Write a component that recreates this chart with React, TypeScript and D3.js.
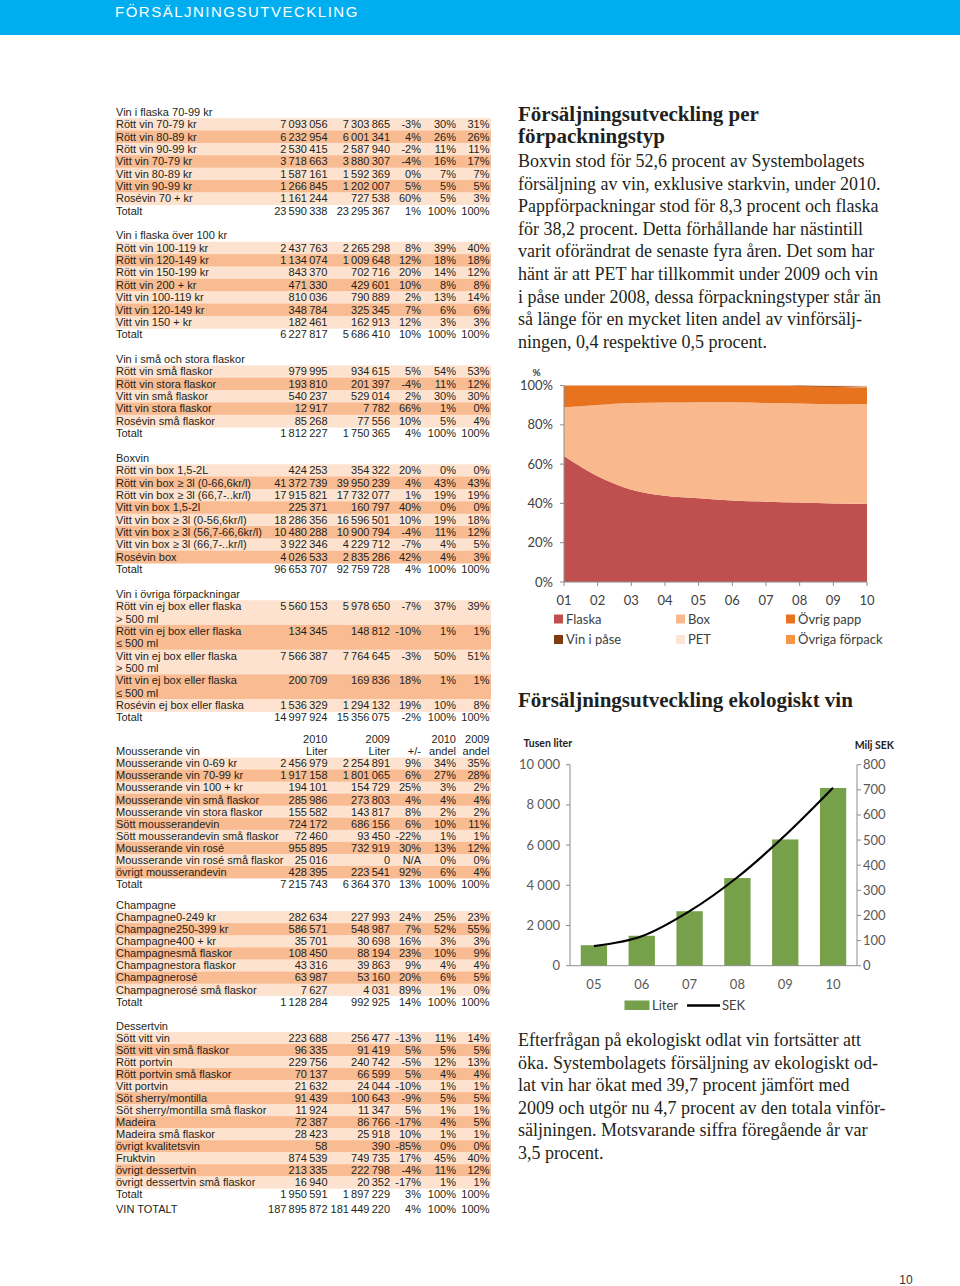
import React from "react";
import * as d3 from "d3";

const W = 960;
const H = 1286;

// ---------------- TABLE DATA ----------------
type Row = [string, number, number, number | null, number, number];
type Total = [number, number, number, number, number];

const flaska7099Rows: Row[] = [
  ["Rött vin 70-79 kr", 7093056, 7303865, -3, 30, 31],
  ["Rött vin 80-89 kr", 6232954, 6001341, 4, 26, 26],
  ["Rött vin 90-99 kr", 2530415, 2587940, -2, 11, 11],
  ["Vitt vin  70-79 kr", 3718663, 3880307, -4, 16, 17],
  ["Vitt vin 80-89 kr", 1587161, 1592369, 0, 7, 7],
  ["Vitt vin  90-99 kr", 1266845, 1202007, 5, 5, 5],
  ["Rosévin 70 + kr", 1161244, 727538, 60, 5, 3],
];
const flaska7099Total: Total = [23590338, 23295367, 1, 100, 100];

const flaska100Rows: Row[] = [
  ["Rött vin 100-119 kr", 2437763, 2265298, 8, 39, 40],
  ["Rött vin 120-149 kr", 1134074, 1009648, 12, 18, 18],
  ["Rött vin 150-199 kr", 843370, 702716, 20, 14, 12],
  ["Rött vin 200 + kr", 471330, 429601, 10, 8, 8],
  ["Vitt vin 100-119 kr", 810036, 790889, 2, 13, 14],
  ["Vitt vin 120-149 kr", 348784, 325345, 7, 6, 6],
  ["Vitt vin 150 + kr", 182461, 162913, 12, 3, 3],
];
const flaska100Total: Total = [6227817, 5686410, 10, 100, 100];

const smaStoraRows: Row[] = [
  ["Rött vin små flaskor", 979995, 934615, 5, 54, 53],
  ["Rött vin stora flaskor", 193810, 201397, -4, 11, 12],
  ["Vitt vin små flaskor", 540237, 529014, 2, 30, 30],
  ["Vitt vin stora flaskor", 12917, 7782, 66, 1, 0],
  ["Rosévin små flaskor", 85268, 77556, 10, 5, 4],
];
const smaStoraTotal: Total = [1812227, 1750365, 4, 100, 100];

const boxRows: Row[] = [
  ["Rött vin box 1,5-2L", 424253, 354322, 20, 0, 0],
  ["Rött vin box ≥ 3l (0-66,6kr/l)", 41372739, 39950239, 4, 43, 43],
  ["Rött vin box ≥ 3l (66,7-..kr/l)", 17915821, 17732077, 1, 19, 19],
  ["Vitt vin box 1,5-2l", 225371, 160797, 40, 0, 0],
  ["Vitt vin box ≥ 3l (0-56,6kr/l)", 18286356, 16596501, 10, 19, 18],
  ["Vitt vin box ≥ 3l (56,7-66,6kr/l)", 10480288, 10900794, -4, 11, 12],
  ["Vitt vin box ≥ 3l (66,7-..kr/l)", 3922346, 4229712, -7, 4, 5],
  ["Rosévin box", 4026533, 2835286, 42, 4, 3],
];
const boxTotal: Total = [96653707, 92759728, 4, 100, 100];

const ovrigaRows: Row[] = [
  ["Rött vin ej box eller flaska\n> 500 ml", 5560153, 5978650, -7, 37, 39],
  ["Rött vin ej box eller flaska\n≤ 500 ml", 134345, 148812, -10, 1, 1],
  ["Vitt vin ej box eller flaska\n> 500 ml", 7566387, 7764645, -3, 50, 51],
  ["Vitt vin ej box eller flaska\n≤ 500 ml", 200709, 169836, 18, 1, 1],
  ["Rosévin ej box eller flaska", 1536329, 1294132, 19, 10, 8],
];
const ovrigaTotal: Total = [14997924, 15356075, -2, 100, 100];

const mousRows: Row[] = [
  ["Mousserande vin 0-69 kr", 2456979, 2254891, 9, 34, 35],
  ["Mousserande vin 70-99 kr", 1917158, 1801065, 6, 27, 28],
  ["Mousserande vin 100 + kr", 194101, 154729, 25, 3, 2],
  ["Mousserande vin små flaskor", 285986, 273803, 4, 4, 4],
  ["Mousserande vin stora flaskor", 155582, 143817, 8, 2, 2],
  ["Sött mousserandevin", 724172, 686156, 6, 10, 11],
  ["Sött mousserandevin små flaskor", 72460, 93450, -22, 1, 1],
  ["Mousserande vin rosé", 955895, 732919, 30, 13, 12],
  ["Mousserande vin rosé små flaskor", 25016, 0, null, 0, 0],
  ["övrigt mousserandevin", 428395, 223541, 92, 6, 4],
];
const mousTotal: Total = [7215743, 6364370, 13, 100, 100];
const mousHeadTop = ["2010", "2009", "", "2010", "2009"];
const mousHeadBottom = ["Liter", "Liter", "+/-", "andel", "andel"];

const champRows: Row[] = [
  ["Champagne0-249 kr", 282634, 227993, 24, 25, 23],
  ["Champagne250-399 kr", 586571, 548987, 7, 52, 55],
  ["Champagne400 + kr", 35701, 30698, 16, 3, 3],
  ["Champagnesmå flaskor", 108450, 88194, 23, 10, 9],
  ["Champagnestora flaskor", 43316, 39863, 9, 4, 4],
  ["Champagnerosé", 63987, 53160, 20, 6, 5],
  ["Champagnerosé små flaskor", 7627, 4031, 89, 1, 0],
];
const champTotal: Total = [1128284, 992925, 14, 100, 100];

const dessertRows: Row[] = [
  ["Sött vitt vin", 223688, 256477, -13, 11, 14],
  ["Sött vitt vin små flaskor", 96335, 91419, 5, 5, 5],
  ["Rött portvin", 229756, 240742, -5, 12, 13],
  ["Rött portvin små flaskor", 70137, 66599, 5, 4, 4],
  ["Vitt portvin", 21632, 24044, -10, 1, 1],
  ["Söt sherry/montilla", 91439, 100643, -9, 5, 5],
  ["Söt sherry/montilla små flaskor", 11924, 11347, 5, 1, 1],
  ["Madeira", 72387, 86766, -17, 4, 5],
  ["Madeira små flaskor", 28423, 25918, 10, 1, 1],
  ["övrigt kvalitetsvin", 58, 390, -85, 0, 0],
  ["Fruktvin", 874539, 749735, 17, 45, 40],
  ["övrigt dessertvin", 213335, 222798, -4, 11, 12],
  ["övrigt dessertvin små flaskor", 16940, 20352, -17, 1, 1],
];
const dessertTotal: Total = [1950591, 1897229, 3, 100, 100];

const vinTotalt: Total = [187895872, 181449220, 4, 100, 100];

const sectionTitles = [
  "Vin i flaska 70-99 kr",
  "Vin i flaska över 100 kr",
  "Vin i små och stora flaskor",
  "Boxvin",
  "Vin i övriga förpackningar",
  "Mousserande vin",
  "Champagne",
  "Dessertvin",
];
const sectionRows = [flaska7099Rows, flaska100Rows, smaStoraRows, boxRows, ovrigaRows, mousRows, champRows, dessertRows];
const sectionTotals = [flaska7099Total, flaska100Total, smaStoraTotal, boxTotal, ovrigaTotal, mousTotal, champTotal, dessertTotal];

// ---------------- CHART DATA ----------------
const pkgYears = ["01", "02", "03", "04", "05", "06", "07", "08", "09", "10"];
const pkgFlaska = [64.1, 53.8, 47.0, 43.9, 42.6, 41.5, 40.9, 40.5, 40.0, 39.8];
const pkgBox = [24.8, 36.3, 44.1, 47.4, 48.9, 50.0, 50.2, 50.3, 50.4, 50.8];
const pkgOvrigPapp = [11.1, 9.9, 8.9, 8.7, 8.5, 8.5, 8.9, 9.0, 9.0, 8.3];
const pkgOvrigaForpack = [0, 0, 0, 0, 0, 0, 0, 0, 0, 0.2];
const pkgVinIPase = [0, 0, 0, 0, 0, 0, 0, 0.2, 0.4, 0.4];
const pkgPet = [0, 0, 0, 0, 0, 0, 0, 0, 0.2, 0.5];
const pkgYTicks = [0, 0.2, 0.4, 0.6, 0.8, 1];

const ecoYears = ["05", "06", "07", "08", "09", "10"];
const ecoLiter = [1020, 1490, 2710, 4360, 6280, 8840];
const ecoSek = [78, 117, 217, 352, 519, 708];
const ecoLeftTicks = [0, 2000, 4000, 6000, 8000, 10000];
const ecoRightTicks = [0, 100, 200, 300, 400, 500, 600, 700, 800];

// ---------------- TEXT ----------------
const para1 = [
  "Boxvin stod för 52,6 procent av Systembolagets",
  "försäljning av vin, exklusive starkvin, under 2010.",
  "Pappförpackningar stod för 8,3 procent och flaska",
  "för 38,2 procent. Detta förhållande har nästintill",
  "varit oförändrat de senaste fyra åren. Det som har",
  "hänt är att PET har tillkommit under 2009 och vin",
  "i påse under 2008, dessa förpackningstyper står än",
  "så länge för en mycket liten andel av vinförsälj-",
  "ningen, 0,4 respektive 0,5 procent.",
];
const para2 = [
  "Efterfrågan på ekologiskt odlat vin fortsätter att",
  "öka. Systembolagets försäljning av ekologiskt od-",
  "lat vin har ökat med 39,7 procent jämfört med",
  "2009 och utgör nu 4,7 procent av den totala vinför-",
  "säljningen. Motsvarande siffra föregående år var",
  "3,5 procent.",
];

// ---------------- STYLE / LAYOUT ----------------
const TABLE_FONT = "'Liberation Sans', Arial, sans-serif";
const SERIF = "'Liberation Serif', 'Times New Roman', serif";
const CHART_FONT = "Lato, 'Open Sans', sans-serif";
const INK = "#231f20";
const LIGHT_BAND = "#fde3cf";
const DARK_BAND = "#f9bc92";
const colRight = [327.5, 390, 421, 456, 489.5];
const sectionLayout = [
  { start: 112, pitch: 12.36 },
  { start: 112 + 10 * 12.36, pitch: 12.36 },
  { start: 112 + 20 * 12.36, pitch: 12.36 },
  { start: 112 + 28 * 12.36, pitch: 12.36 },
  { start: 112 + 39 * 12.36, pitch: 12.36 },
  { start: 751.5, pitch: 12.05 },
  { start: 905, pitch: 12.1 },
  { start: 1026, pitch: 12.02 },
];
const vinTotaltY = 1209.5;

const locale = d3.formatLocale({ decimal: ",", thousands: "\u2009", grouping: [3], currency: ["", ""] });
const fmtNum = locale.format(",d");
const fmtPct = (v: number | null) => (v === null ? "N/A" : `${v}%`);
const fmtThousand = d3.formatLocale({ decimal: ",", thousands: " ", grouping: [3], currency: ["", ""] }).format(",d");

function Cells({ y, vals }: { y: number; vals: string[] }) {
  return (
    <>
      {vals.map((v, i) => (
        <text key={i} x={colRight[i]} y={y + 3.8} textAnchor="end">
          {v}
        </text>
      ))}
    </>
  );
}

function totalCells(t: Total) {
  return [fmtNum(t[0]), fmtNum(t[1]), fmtPct(t[2]), fmtPct(t[3]), fmtPct(t[4])];
}

function Table() {
  const bands: React.ReactNode[] = [];
  const texts: React.ReactNode[] = [];
  sectionTitles.forEach((title, si) => {
    const { start, pitch } = sectionLayout[si];
    const rows = sectionRows[si];
    const yOf = (line: number) => start + line * pitch;
    if (si === 5) {
      texts.push(<Cells key={`h1-${si}`} y={yOf(-1)} vals={mousHeadTop} />);
      texts.push(<Cells key={`h2-${si}`} y={yOf(0)} vals={mousHeadBottom} />);
    }
    texts.push(
      <text key={`t-${si}`} x={116} y={yOf(0) + 3.8}>
        {title}
      </text>
    );
    let line = 1;
    rows.forEach((r, ri) => {
      const labelLines = r[0].split("\n");
      const y0 = yOf(line);
      bands.push(
        <rect
          key={`b-${si}-${ri}`}
          x={115}
          y={y0 - pitch / 2}
          width={376}
          height={labelLines.length * pitch + 0.4}
          fill={ri % 2 === 0 ? LIGHT_BAND : DARK_BAND}
        />
      );
      labelLines.forEach((l, li) => {
        texts.push(
          <text key={`l-${si}-${ri}-${li}`} x={116} y={y0 + li * pitch + 3.8}>
            {l}
          </text>
        );
      });
      texts.push(
        <Cells
          key={`c-${si}-${ri}`}
          y={y0}
          vals={[fmtNum(r[1]), fmtNum(r[2]), fmtPct(r[3]), fmtPct(r[4]), fmtPct(r[5])]}
        />
      );
      line += labelLines.length;
    });
    const ty = yOf(line);
    texts.push(
      <text key={`tt-${si}`} x={116} y={ty + 3.8}>
        Totalt
      </text>
    );
    texts.push(<Cells key={`tc-${si}`} y={ty} vals={totalCells(sectionTotals[si])} />);
  });
  texts.push(
    <text key="vt" x={116} y={vinTotaltY + 3.8}>
      VIN TOTALT
    </text>
  );
  texts.push(<Cells key="vtc" y={vinTotaltY} vals={totalCells(vinTotalt)} />);
  return (
    <g fontFamily={TABLE_FONT} fontSize={11} fill={INK}>
      {bands}
      {texts}
    </g>
  );
}

// ---------------- PACKAGING AREA CHART ----------------
const pkgSeries = [
  { key: "Flaska", values: pkgFlaska, color: "#c0504d" },
  { key: "Box", values: pkgBox, color: "#fab98c" },
  { key: "Övrig papp", values: pkgOvrigPapp, color: "#e8731f" },
  { key: "Övriga förpack", values: pkgOvrigaForpack, color: "#f79646" },
  { key: "Vin i påse", values: pkgVinIPase, color: "#7f3c10" },
  { key: "PET", values: pkgPet, color: "#fce4d6" },
];
const pkgLegendOrder = ["Flaska", "Box", "Övrig papp", "Vin i påse", "PET", "Övriga förpack"];

function PackagingChart() {
  const x = d3.scalePoint<string>().domain(pkgYears).range([564, 867]);
  const y = d3.scaleLinear().domain([0, 1]).range([582, 385.5]);
  const rows = pkgYears.map((yr, i) => {
    const o: any = { year: yr };
    pkgSeries.forEach((s) => (o[s.key] = s.values[i]));
    return o;
  });
  const stacked = d3
    .stack<any>()
    .keys(pkgSeries.map((s) => s.key))
    .offset(d3.stackOffsetExpand)(rows);
  const area = d3
    .area<any>()
    .x((d) => x(d.data.year) as number)
    .y0((d) => y(d[0]))
    .y1((d) => y(d[1]))
    .curve(d3.curveMonotoneX);
  const colorOf = (k: string) => pkgSeries.find((s) => s.key === k)!.color;
  const legendCols = [554, 676, 786];
  const legendRows = [619, 639.5];
  return (
    <g fontFamily={CHART_FONT}>
      {stacked.map((s) => (
        <path key={s.key} d={area(s) || ""} fill={colorOf(s.key)} />
      ))}
      <line x1={564} x2={564} y1={385.5} y2={582} stroke="#8c8c8c" />
      <line x1={564} x2={867} y1={582} y2={582} stroke="#8c8c8c" />
      {pkgYTicks.map((t) => (
        <g key={t}>
          <line x1={560} x2={564} y1={y(t)} y2={y(t)} stroke="#8c8c8c" />
          <text x={553} y={y(t) + 4.5} textAnchor="end" fontSize={13} fill="#404040">
            {d3.format(".0%")(t)}
          </text>
        </g>
      ))}
      {pkgYears.map((yr) => (
        <g key={yr}>
          <line x1={x(yr)} x2={x(yr)} y1={582} y2={586} stroke="#8c8c8c" />
          <text x={x(yr)} y={605} textAnchor="middle" fontSize={13} fill="#404040">
            {yr}
          </text>
        </g>
      ))}
      <text x={536.5} y={376} textAnchor="middle" fontSize={10} fontWeight="bold" fill="#404040">
        %
      </text>
      {pkgLegendOrder.map((k, i) => {
        const cx = legendCols[i % 3];
        const cy = legendRows[Math.floor(i / 3)];
        return (
          <g key={k}>
            <rect x={cx} y={cy - 4.5} width={9} height={9} fill={colorOf(k)} />
            <text x={cx + 12} y={cy + 4.5} fontSize={13} fill="#404040">
              {k}
            </text>
          </g>
        );
      })}
    </g>
  );
}

// ---------------- ECO CHART ----------------
function EcoChart() {
  const x = d3.scaleBand<string>().domain(ecoYears).range([570, 857]).paddingInner(0.45).paddingOuter(0.225);
  const yL = d3.scaleLinear().domain([0, 10000]).range([965.7, 764.7]);
  const yR = d3.scaleLinear().domain([0, 800]).range([965.7, 764.7]);
  const line = d3
    .line<number>()
    .x((_, i) => (x(ecoYears[i]) as number) + x.bandwidth() / 2)
    .y((d) => yR(d))
    .curve(d3.curveMonotoneX);
  return (
    <g fontFamily={CHART_FONT}>
      {ecoLiter.map((v, i) => (
        <rect
          key={ecoYears[i]}
          x={x(ecoYears[i])}
          y={yL(v)}
          width={x.bandwidth()}
          height={yL(0) - yL(v)}
          fill="#77a04b"
        />
      ))}
      <path d={line(ecoSek) || ""} fill="none" stroke="#000" strokeWidth={2.2} />
      <line x1={570} x2={570} y1={764.7} y2={965.7} stroke="#8c8c8c" />
      <line x1={857} x2={857} y1={764.7} y2={965.7} stroke="#8c8c8c" />
      <line x1={570} x2={857} y1={965.7} y2={965.7} stroke="#8c8c8c" />
      {ecoLeftTicks.map((t) => (
        <g key={t}>
          <line x1={566} x2={570} y1={yL(t)} y2={yL(t)} stroke="#8c8c8c" />
          <text x={560} y={yL(t) + 4.5} textAnchor="end" fontSize={13} fill="#595959">
            {fmtThousand(t)}
          </text>
        </g>
      ))}
      {ecoRightTicks.map((t) => (
        <g key={t}>
          <line x1={857} x2={861} y1={yR(t)} y2={yR(t)} stroke="#8c8c8c" />
          <text x={863} y={yR(t) + 4.5} fontSize={13} fill="#595959">
            {t}
          </text>
        </g>
      ))}
      {ecoYears.map((yr) => (
        <text
          key={yr}
          x={(x(yr) as number) + x.bandwidth() / 2}
          y={989}
          textAnchor="middle"
          fontSize={13}
          fill="#595959"
        >
          {yr}
        </text>
      ))}
      <text x={523.5} y={747} fontSize={10.5} fontWeight="bold" fill="#222">
        Tusen liter
      </text>
      <text x={894} y={749} textAnchor="end" fontSize={10.5} fontWeight="bold" fill="#222">
        Milj SEK
      </text>
      <rect x={624.5} y={1000.5} width={25} height={9.5} fill="#77a04b" />
      <text x={652} y={1009.5} fontSize={13} fill="#404040">
        Liter
      </text>
      <line x1={687} x2={720} y1={1005.5} y2={1005.5} stroke="#000" strokeWidth={2.5} />
      <text x={722} y={1009.5} fontSize={13} fill="#404040">
        SEK
      </text>
    </g>
  );
}

export default function App() {
  return (
    <svg
      width={W}
      height={H}
      viewBox={`0 0 ${W} ${H}`}
      style={{ position: "absolute", left: 0, top: 0, background: "#fff" }}
    >
      <rect x={0} y={0} width={W} height={H} fill="#fff" />
      <rect x={0} y={0} width={W} height={35} fill="#00aeef" />
      <text
        x={115}
        y={17}
        fill="#fff"
        fontFamily="'Liberation Sans', Arial, sans-serif"
        fontSize={15}
        letterSpacing={1.5}
      >
        FÖRSÄLJNINGSUTVECKLING
      </text>

      <Table />

      <g fontFamily={SERIF} fill={INK}>
        <text x={518} y={121} fontSize={21} fontWeight="bold">
          Försäljningsutveckling per
        </text>
        <text x={518} y={142.5} fontSize={21} fontWeight="bold">
          förpackningstyp
        </text>
        {para1.map((l, i) => (
          <text key={i} x={518} y={167 + i * 22.6} fontSize={18}>
            {l}
          </text>
        ))}
        <text x={518} y={707} fontSize={21} fontWeight="bold">
          Försäljningsutveckling ekologiskt vin
        </text>
        {para2.map((l, i) => (
          <text key={i} x={518} y={1046 + i * 22.6} fontSize={18}>
            {l}
          </text>
        ))}
      </g>

      <PackagingChart />
      <EcoChart />

      <text x={906} y={1284} textAnchor="middle" fontFamily="'Liberation Sans', Arial, sans-serif" fontSize={12} fill="#333">
        10
      </text>
    </svg>
  );
}
